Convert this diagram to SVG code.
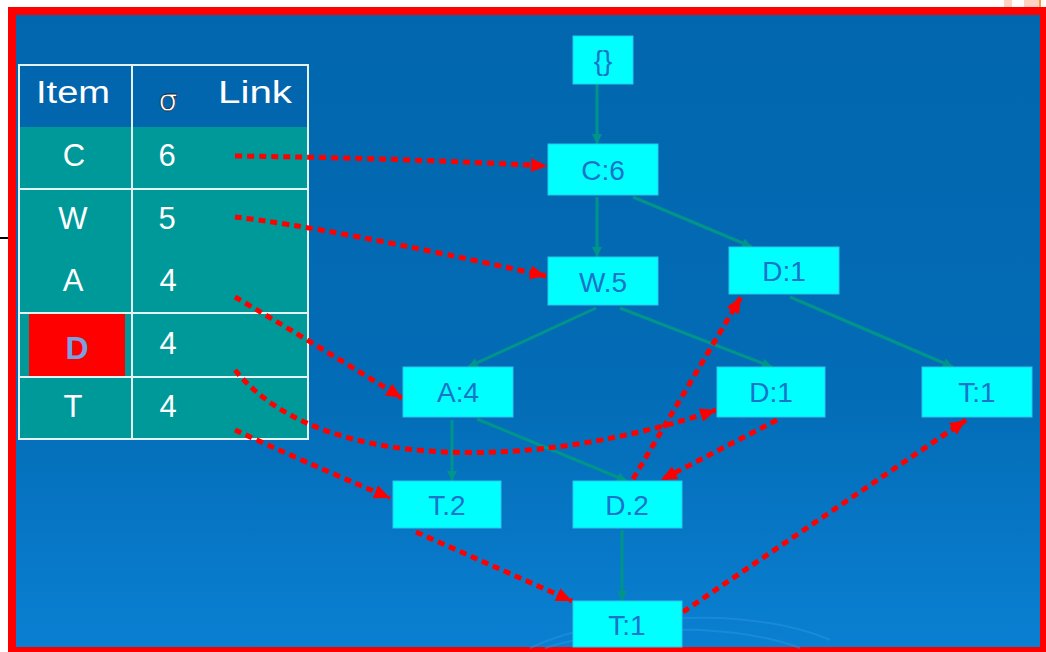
<svg xmlns="http://www.w3.org/2000/svg" width="1046" height="652" viewBox="0 0 1046 652">
  <defs>
    <linearGradient id="bg" x1="0" y1="0" x2="0" y2="1">
      <stop offset="0" stop-color="#0166ad"/>
      <stop offset="0.6" stop-color="#036cb6"/>
      <stop offset="1" stop-color="#0a80d2"/>
    </linearGradient>
    <marker id="redArrow" viewBox="0 0 16 14" refX="16" refY="7" markerWidth="16" markerHeight="14" markerUnits="userSpaceOnUse" orient="auto">
      <path d="M0,0 L16,7 L0,14 z" fill="#ff0000"/>
    </marker>
    <marker id="tealArrow" viewBox="0 0 10 10" refX="10" refY="5" markerWidth="10" markerHeight="10" markerUnits="userSpaceOnUse" orient="auto">
      <path d="M0,0 L10,5 L0,10 z" fill="#00958a"/>
    </marker>
  </defs>
  <style>
    .node rect { fill: #00ffff; stroke: #2cc6ea; stroke-width: 1; }
    .node text { font-family: "Liberation Sans", Arial, sans-serif; font-size: 28px; fill: #1a74c8; text-anchor: middle; }
    .tree { stroke: #00958a; stroke-width: 3; fill: none; marker-end: url(#tealArrow); }
    .link { stroke: #ff0000; stroke-width: 5; fill: none; stroke-dasharray: 7 5; marker-end: url(#redArrow); }
    .tline { stroke: #e4f2f2; stroke-width: 2; fill: none; }
    .ttext { font-family: "Liberation Sans", Arial, sans-serif; font-size: 31px; fill: #ffffff; text-anchor: middle; }
  </style>

  <!-- page -->
  <rect x="0" y="0" width="1046" height="652" fill="#ffffff"/>
  <rect x="1004" y="0" width="8" height="7" fill="#ffd3c4"/>
  <rect x="1024" y="0" width="15" height="7" fill="#ffd3c4"/>
  <rect x="1039" y="0" width="2" height="7" fill="#ff9a40"/>
  <line x1="0" y1="238" x2="9" y2="238" stroke="#000000" stroke-width="2"/>
  <rect x="12" y="11" width="1032" height="640" fill="url(#bg)" stroke="#ff0000" stroke-width="8"/>

  <!-- faint decorative arcs -->
  <g fill="none" stroke="#2e97e6" stroke-width="2" opacity="0.45">
    <path d="M530,648 Q600,615 720,618 Q790,622 830,640"/>
    <path d="M545,648 Q610,628 700,630 Q760,633 800,648"/>
  </g>

  <!-- table -->
  <g id="table">
    <rect x="19" y="65" width="289" height="62" fill="#0166ad"/>
    <rect x="19" y="127" width="289" height="312" fill="#009999"/>
    <rect x="29" y="314" width="96" height="63" fill="#ff0000"/>
    <rect x="19" y="65" width="289" height="374" class="tline"/>
    <line x1="132" y1="65" x2="132" y2="439" class="tline"/>
    <line x1="19" y1="189" x2="308" y2="189" class="tline"/>
    <line x1="19" y1="313" x2="308" y2="313" class="tline"/>
    <line x1="19" y1="377" x2="308" y2="377" class="tline"/>
    <text x="73" y="103" class="ttext" textLength="74" lengthAdjust="spacingAndGlyphs">Item</text>
    <text x="168" y="111" font-family="DejaVu Sans, sans-serif" font-size="30" fill="#ffffff" stroke="#1a2a3a" stroke-width="0.8" text-anchor="middle">σ</text>
    <text x="255" y="103" class="ttext" textLength="74" lengthAdjust="spacingAndGlyphs">Link</text>
    <text x="74" y="166" class="ttext">C</text>
    <text x="167" y="166" class="ttext">6</text>
    <text x="73" y="229" class="ttext">W</text>
    <text x="167" y="229" class="ttext">5</text>
    <text x="73" y="291" class="ttext">A</text>
    <text x="168" y="291" class="ttext">4</text>
    <text x="77" y="359" font-family="Liberation Sans, Arial, sans-serif" font-size="32" font-weight="bold" fill="#7c9fe0" text-anchor="middle">D</text>
    <text x="168" y="354" class="ttext">4</text>
    <text x="73" y="417" class="ttext">T</text>
    <text x="168" y="417" class="ttext">4</text>
  </g>

  <!-- connectors -->
  <g id="connectors">
    <path class="tree" d="M597,84 L597,144"/>
    <path class="tree" d="M597,197 L597,257"/>
    <path class="tree" d="M633,197 L752,247"/>
    <path class="tree" d="M596,308 L468,367"/>
    <path class="tree" d="M620,308 L772,367"/>
    <path class="tree" d="M790,297 L953,367"/>
    <path class="tree" d="M452,420 L452,481"/>
    <path class="tree" d="M477,419 L627,481"/>
    <path class="tree" d="M622,530 L622,601"/>

    <path class="link" d="M235,156 Q400,158 547,166"/>
    <path class="link" d="M235,217 Q330,228 546,276"/>
    <path class="link" d="M235,297 Q300,335 402,398"/>
    <path class="link" d="M235,370 C320,475 540,470 716,410"/>
    <path class="link" d="M235,430 Q300,460 390,498"/>
    <path class="link" d="M633,479 L741,297"/>
    <path class="link" d="M777,420 L661,480"/>
    <path class="link" d="M416,532 L572,601"/>
    <path class="link" d="M683,612 L966,420"/>
  </g>

  <!-- nodes -->
  <g id="n-root" class="node"><rect x="573" y="36" width="60" height="48"/><text x="603" y="70">{}</text></g>
  <g id="n-c6" class="node"><rect x="548" y="144" width="110" height="51"/><text x="603" y="180">C:6</text></g>
  <g id="n-w5" class="node"><rect x="548" y="257" width="110" height="48"/><text x="603" y="292">W.5</text></g>
  <g id="n-d1a" class="node"><rect x="729" y="247" width="110" height="47"/><text x="784" y="281">D:1</text></g>
  <g id="n-a4" class="node"><rect x="403" y="367" width="110" height="50"/><text x="458" y="402">A:4</text></g>
  <g id="n-d1b" class="node"><rect x="717" y="367" width="108" height="50"/><text x="771" y="402">D:1</text></g>
  <g id="n-t1a" class="node"><rect x="922" y="367" width="110" height="50"/><text x="977" y="402">T:1</text></g>
  <g id="n-t2" class="node"><rect x="393" y="481" width="108" height="47"/><text x="447" y="515">T.2</text></g>
  <g id="n-d2" class="node"><rect x="573" y="481" width="109" height="47"/><text x="627" y="515">D.2</text></g>
  <g id="n-t1b" class="node"><rect x="573" y="601" width="109" height="46"/><text x="627" y="635">T:1</text></g>
</svg>
